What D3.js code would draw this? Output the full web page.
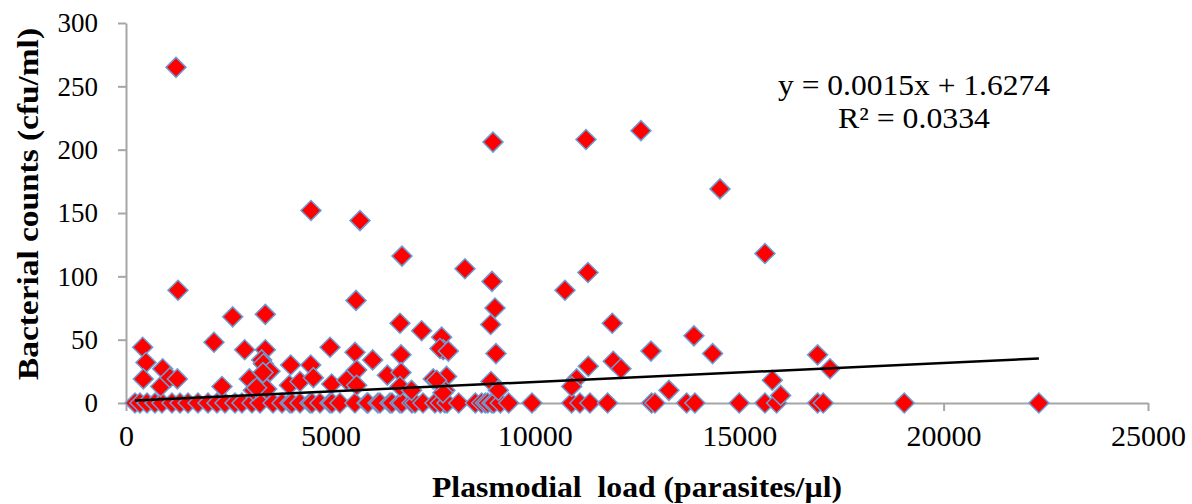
<!DOCTYPE html>
<html>
<head>
<meta charset="utf-8">
<script src="https://cdn.jsdelivr.net/npm/d3@7"></script>
<style>
  body { margin: 0; background: #fff; }
  text { font-family: "Liberation Serif", "Times New Roman", serif; }
</style>
</head>
<body>
<div id="chart"></div>
<script>
// values
var xTicks = [0, 5000, 10000, 15000, 20000, 25000];
var yTicks = [0, 50, 100, 150, 200, 250, 300];

// samples with bacteria found (parasites/µl, cfu/ml)
var loadPos = [1223, 1272, 4525, 5724, 6751, 8292, 8977, 11252, 12597, 14530, 15630, 8953, 10738, 11300, 9026, 5626,
  408, 489, 424, 897, 848, 1076, 1256, 2609, 3408, 2152, 2348, 2903, 3408, 3319, 3360, 3523, 3017, 3115, 3441,
  4029, 3995, 4257, 4518, 4583, 4991, 5031, 5398, 5602, 5643, 5643, 6034, 6393, 6702, 6727, 6727, 6702, 7232,
  7516, 7721, 7761, 7680, 7884, 7842, 7802, 8920, 9050, 8928, 9107, 11895, 12842, 13893, 14349, 11308, 11919,
  12108, 11023, 10901, 13281, 15810, 16918, 17221, 16014, 6985, 7753, 3351, 3196, 7598];
var countPos = [265, 89, 152, 144, 116, 106, 206, 208, 215, 169, 118, 96, 89, 103, 75, 81,
  44, 32, 19, 27, 13, 20, 19, 68, 70, 48, 13, 42, 42, 34, 31, 25, 19, 10, 11,
  30, 14, 17, 30, 20, 44, 15, 18, 40, 26, 14, 34, 22, 63, 38, 24, 13, 57,
  19, 52, 42, 43, 41, 21, 10, 62, 39, 17, 10, 63, 41, 53, 39, 29, 33,
  27, 19, 13, 10, 18, 38, 27, 6, 10, 8, 24, 12, 18];

// samples with no bacteria (count 0)
var loadZero = [220, 342, 514, 709, 880, 1125, 1321, 1517, 1761, 2006, 2226, 2422, 2666, 2837, 3082, 3278,
  3596, 3816, 4011, 4060, 4256, 4501, 4550, 4745, 4990, 5039, 5234, 5601, 5895, 5919, 6164, 6213, 6458,
  6506, 6702, 6751, 6996, 7069, 7265, 7558, 7803, 7690, 7853, 8139, 8546, 8700, 8791, 8850, 8953, 9000,
  9157, 9361, 9931, 10901, 11104, 11349, 11781, 12858, 12939, 13714, 13917, 15002, 15630, 15915, 16918,
  17055, 19037, 22331];

var slope = 0.0015, intercept = 1.6274;
var eqText = "y = 0.0015x + 1.6274";
var r2Text = "R\u00b2 = 0.0334";

var width = 1192, height = 504;
var margin = {top: 23, right: 44, bottom: 101, left: 126};

var svg = d3.select("#chart")
  .append("svg")
    .attr("width", width)
    .attr("height", height);

var x = d3.scaleLinear()
  .domain([0, 25000])
  .range([margin.left, width - margin.right]);

var y = d3.scaleLinear()
  .domain([0, 300])
  .range([height - margin.bottom, margin.top]);

// Y axis
var yAxis = svg.append("g")
  .attr("transform", "translate(" + margin.left + ",0)")
  .call(d3.axisLeft(y).tickValues(yTicks).tickSize(8).tickSizeOuter(0).tickPadding(20));
yAxis.select(".domain").attr("stroke", "#a6a6a6").attr("stroke-width", 2);
yAxis.selectAll(".tick line").attr("stroke", "#a6a6a6").attr("stroke-width", 2);
yAxis.selectAll(".tick text")
  .attr("fill", "#000")
  .style("font-size", "27px")
  .attr("dy", "0.33em");

// X axis
var xAxis = svg.append("g")
  .attr("transform", "translate(0," + y(0) + ")")
  .call(d3.axisBottom(x).tickValues(xTicks).tickFormat(d3.format("d"))
    .tickSize(8).tickSizeOuter(0).tickPadding(14));
xAxis.select(".domain").attr("stroke", "#a6a6a6").attr("stroke-width", 2);
xAxis.selectAll(".tick line").attr("stroke", "#a6a6a6").attr("stroke-width", 2);
xAxis.selectAll(".tick text")
  .attr("fill", "#000")
  .style("font-size", "30px");

// points
var points = loadZero.map(function(d) { return {load: d, count: 0}; })
  .concat(loadPos.map(function(d, i) { return {load: d, count: countPos[i]}; }));

var diamond = d3.symbol().type(d3.symbolSquare).size(200);

svg.selectAll("myPoints")
  .data(points)
  .enter()
  .append("path")
    .attr("d", diamond)
    .attr("transform", function(d) { return "translate(" + x(d.load) + "," + y(d.count) + ") rotate(45)"; })
    .attr("fill", "#ff0000")
    .attr("stroke", "#6b9ed6")
    .attr("stroke-width", 1.5);

// linear trendline
var xExt = d3.extent(points, function(d) { return d.load; });
svg.append("path")
  .datum(xExt)
  .attr("fill", "none")
  .attr("stroke", "#000")
  .attr("stroke-width", 2.5)
  .attr("d", d3.line()
    .x(function(d) { return x(d); })
    .y(function(d) { return y(slope * d + intercept); }));

// equation
svg.append("text")
  .attr("x", 914).attr("y", 95)
  .attr("text-anchor", "middle")
  .attr("textLength", 272)
  .attr("lengthAdjust", "spacingAndGlyphs")
  .style("font-size", "30px")
  .text(eqText);
svg.append("text")
  .attr("x", 914).attr("y", 128)
  .attr("text-anchor", "middle")
  .attr("textLength", 152)
  .attr("lengthAdjust", "spacingAndGlyphs")
  .style("font-size", "30px")
  .text(r2Text);

// axis titles
svg.append("text")
  .attr("x", 637).attr("y", 497)
  .attr("text-anchor", "middle")
  .attr("textLength", 410)
  .attr("lengthAdjust", "spacingAndGlyphs")
  .style("font-size", "30px")
  .style("font-weight", "bold")
  .style("white-space", "pre")
  .text("Plasmodial  load (parasites/\u00b5l)");

svg.append("text")
  .attr("transform", "translate(38,204) rotate(-90)")
  .attr("text-anchor", "middle")
  .attr("textLength", 352)
  .attr("lengthAdjust", "spacingAndGlyphs")
  .style("font-size", "30px")
  .style("font-weight", "bold")
  .text("Bacterial counts (cfu/ml)");
</script>
</body>
</html>
